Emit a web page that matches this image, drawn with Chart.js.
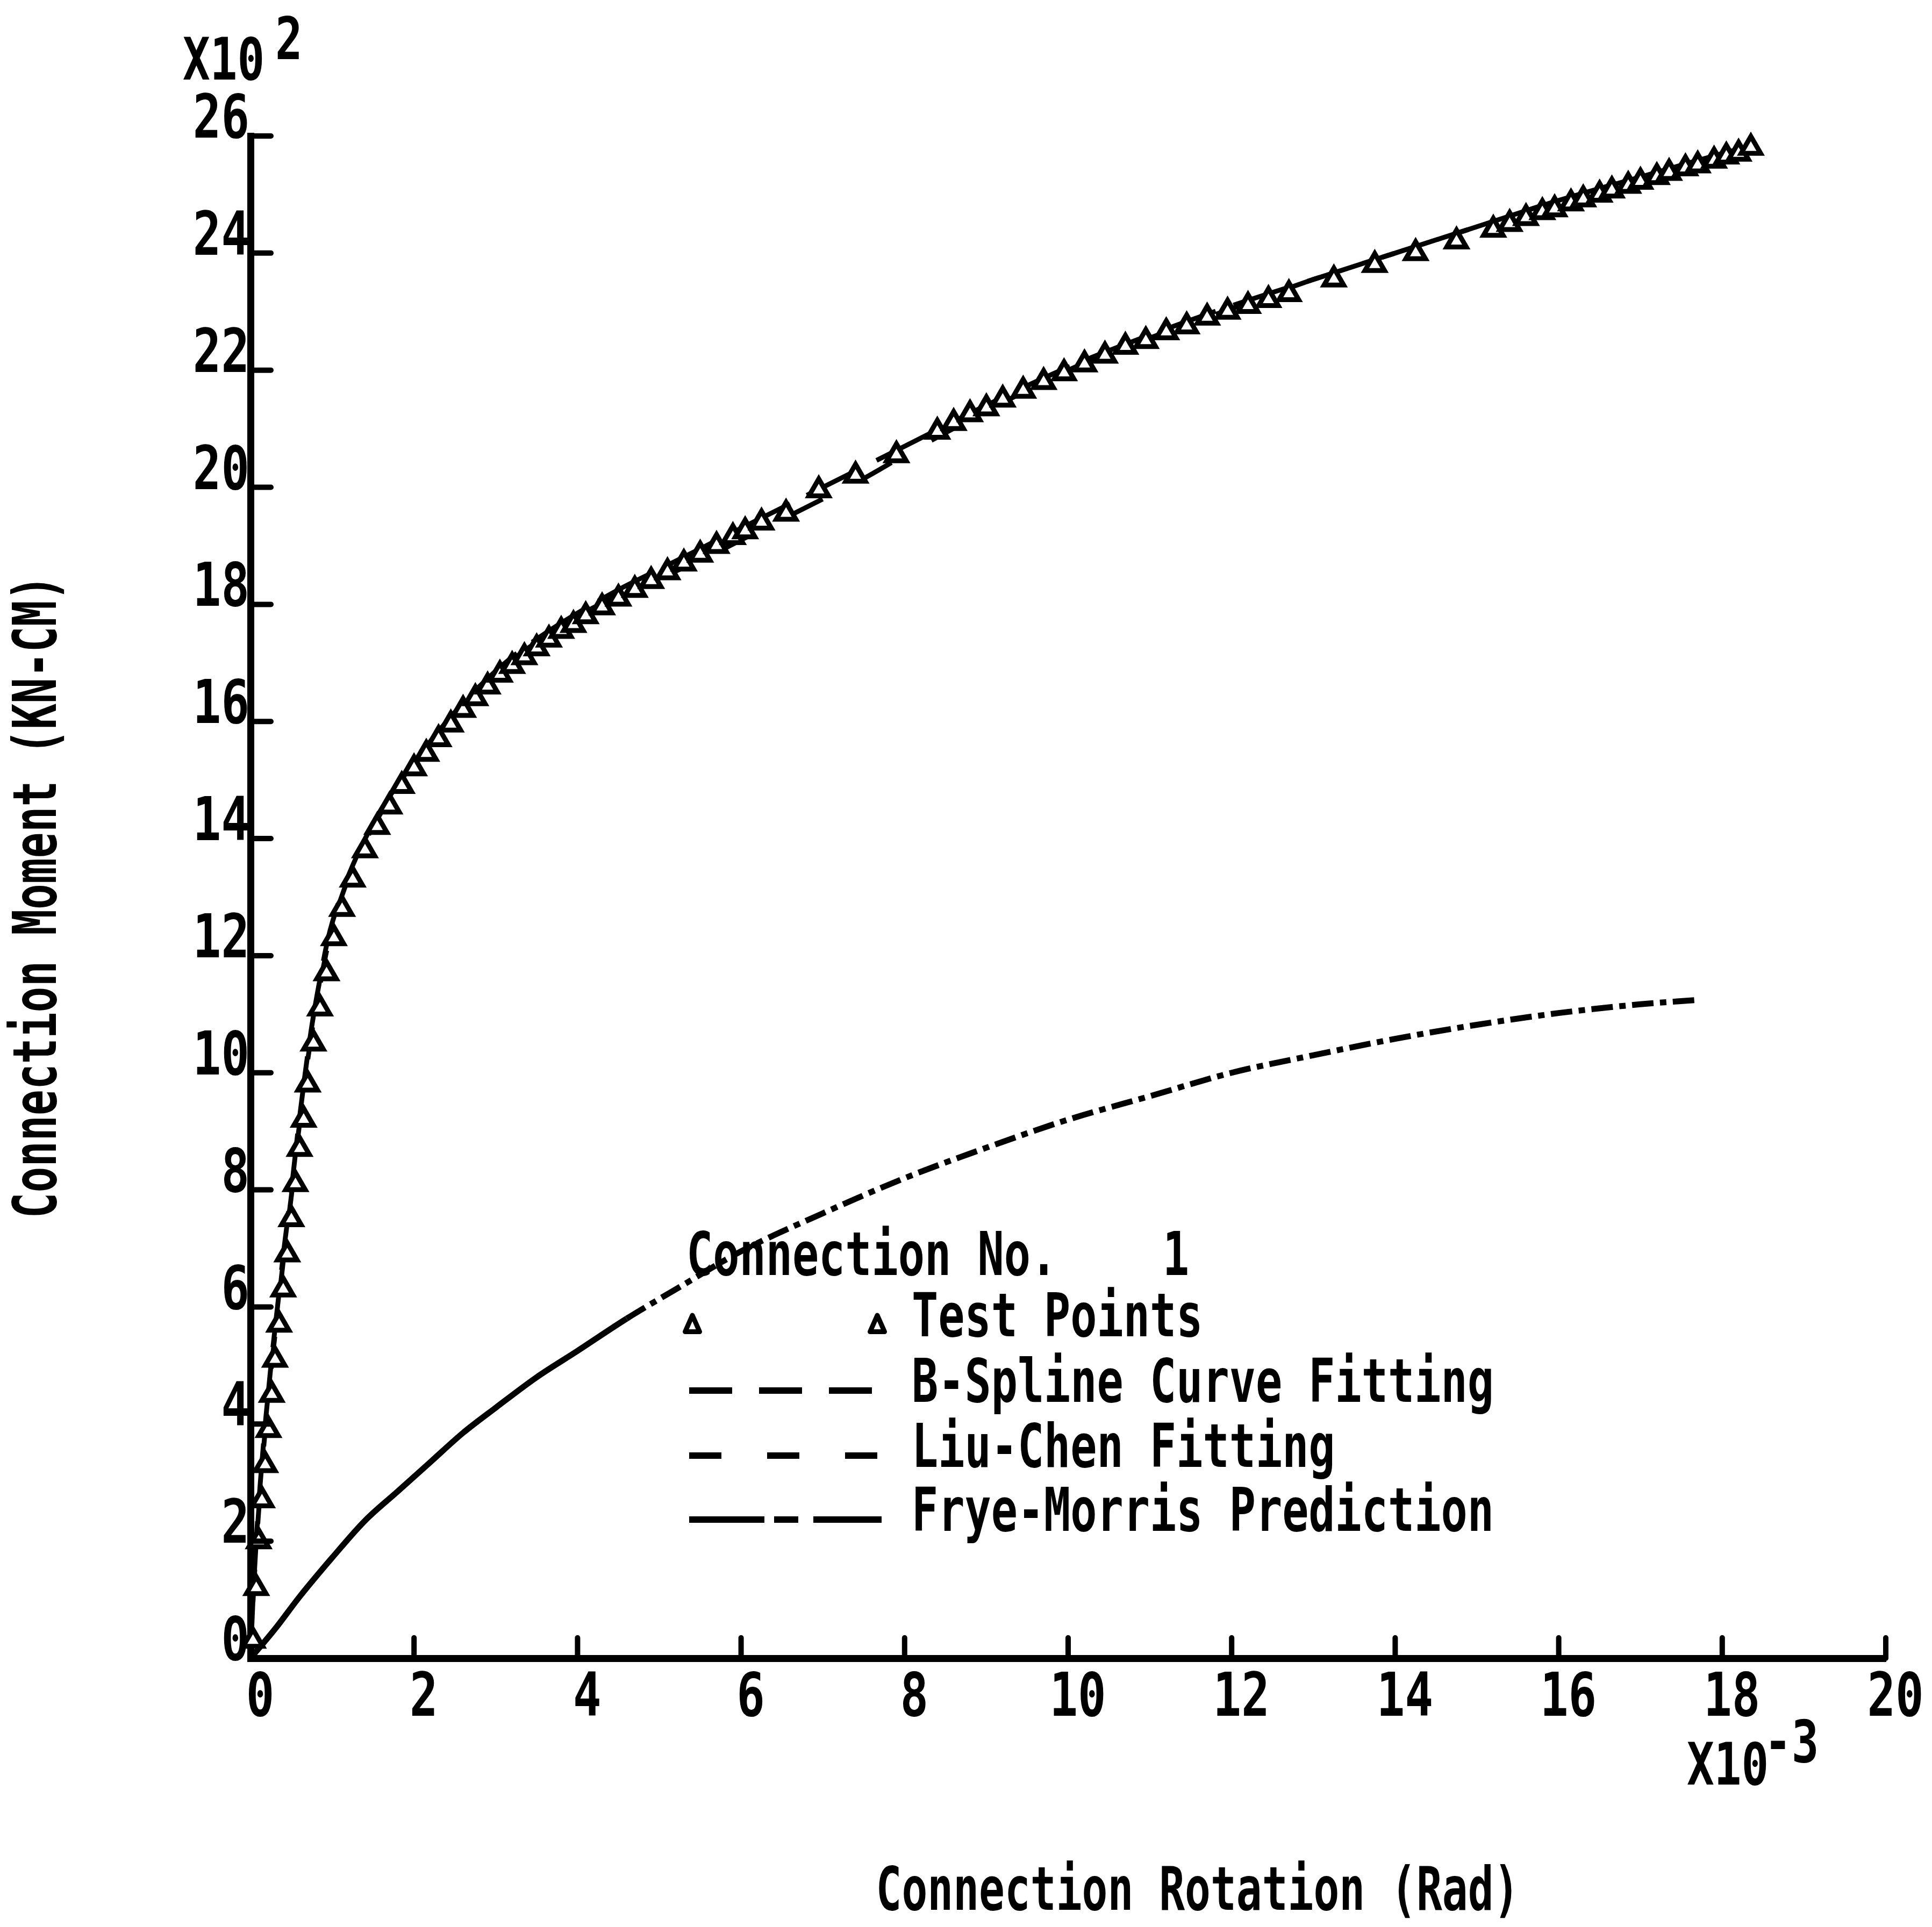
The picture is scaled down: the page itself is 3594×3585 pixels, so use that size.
<!DOCTYPE html>
<html>
<head>
<meta charset="utf-8">
<script src="https://cdn.jsdelivr.net/npm/chart.js@4.4.1/dist/chart.umd.min.js"></script>
<style>
 html,body{margin:0;padding:0;background:#fff;}
 canvas{display:block;background:#fff;}
</style>
</head>
<body>
<canvas id="chart" width="3594" height="3585"></canvas>
<script>
// rotation in 1e-3 rad, moment in 1e2 kN-cm
const testX = [0.03,0.07,0.1,0.14,0.18,0.22,0.26,0.3,0.35,0.4,0.45,0.5,0.55,0.6,0.65,0.7,0.77,0.85,0.93,1.02,1.12,1.25,1.4,1.55,1.7,
 1.85,2.0,2.15,2.3,2.45,2.6,2.75,2.9,3.05,3.2,3.35,3.5,3.65,3.8,3.95,4.1,4.3,4.5,4.7,4.9,5.1,5.3,5.5,5.7,5.9,6.05,6.25,
 6.55,6.95,7.4,7.9,8.4,8.6,8.8,9.0,9.2,9.45,9.7,9.95,10.2,10.45,10.7,10.95,11.2,11.45,11.7,11.95,12.2,12.45,12.7,
 13.25,13.75,14.25,14.75,15.2,15.4,15.6,15.8,15.95,16.15,16.3,16.5,16.65,16.85,17.0,17.2,17.35,17.55,17.7,17.9,18.05,18.2,18.35];
const testY = [0.3,1.2,2.0,2.7,3.3,3.9,4.5,5.1,5.7,6.3,6.9,7.5,8.1,8.7,9.2,9.8,10.5,11.1,11.7,12.3,12.8,13.3,13.8,14.2,14.55,
 14.9,15.2,15.45,15.7,15.95,16.2,16.4,16.6,16.8,16.95,17.1,17.25,17.4,17.55,17.65,17.8,17.95,18.1,18.25,18.4,18.55,18.7,18.85,19.0,19.15,19.25,19.4,
 19.55,19.95,20.2,20.55,20.95,21.1,21.25,21.35,21.5,21.65,21.8,21.95,22.1,22.25,22.4,22.5,22.65,22.75,22.9,23.0,23.1,23.2,23.3,
 23.55,23.8,24.0,24.2,24.4,24.5,24.6,24.7,24.75,24.85,24.92,25.0,25.07,25.15,25.22,25.3,25.37,25.45,25.5,25.58,25.65,25.7,25.8];

const splineX = [0,0.03,0.07,0.12,0.18,0.25,0.33,0.41,0.5,0.58,0.66,0.75,0.85,0.95,1.1,1.3,1.6,2.0,2.4,2.8,3.2,3.6,4.0,4.5,5.0,5.5,6.0,6.5,7.0,7.5,8.0,9.0,10,11,12,13,14,15,16,17,18,18.4];
const splineY = [0,1.0,2.0,3.0,4.0,5.0,6.0,7.0,8.0,9.0,9.9,10.8,11.6,12.3,13.0,13.7,14.5,15.3,16.0,16.6,17.1,17.5,17.85,18.25,18.6,18.95,19.3,19.65,20.0,20.35,20.7,21.4,22.05,22.6,23.1,23.55,24.0,24.45,24.9,25.3,25.7,25.85];

const liuX = [0,0.03,0.07,0.12,0.18,0.25,0.33,0.41,0.5,0.58,0.66,0.75,0.85,0.95,1.1,1.3,1.6,2.0,2.4,2.8,3.2,3.6,4.0,4.5,5.0,5.5,6.0,6.5,7.0,7.5,8.0,9.0,10,11,12,13,14,15,16,17,18,18.4];
const liuY = [0,0.95,1.9,2.9,3.9,4.9,5.9,6.9,7.9,8.9,9.8,10.7,11.5,12.2,12.95,13.65,14.45,15.25,15.95,16.55,17.05,17.45,17.8,18.15,18.45,18.75,19.1,19.45,19.8,20.15,20.55,21.3,22.0,22.55,23.05,23.55,24.0,24.45,24.9,25.3,25.7,25.85];

const fryeX = [0,0.3,0.6,1.0,1.4,1.8,2.2,2.6,3.0,3.5,4.0,4.6,5.2,6.0,7.0,8.0,9.0,10.0,11.0,12.0,13.0,14.0,15.0,16.0,17.0,17.66];
const fryeY = [0,0.5,1.05,1.72,2.35,2.85,3.35,3.85,4.28,4.8,5.25,5.8,6.3,6.95,7.6,8.2,8.72,9.2,9.6,10.0,10.3,10.58,10.82,11.02,11.17,11.24];

const xTicks = [0,2,4,6,8,10,12,14,16,18,20];
const yTicks = [0,2,4,6,8,10,12,14,16,18,20,22,24,26];

const legendRows = ['Connection No.    1','Test Points','B-Spline Curve Fitting','Liu-Chen Fitting','Frye-Morris Prediction'];
const xTitle = 'Connection Rotation (Rad)';
const yTitle = 'Connection Moment (KN-CM)';

const pts = (xs, ys) => xs.map((x, i) => ({x, y: ys[i]}));
const FONT = '"DejaVu Sans Mono", monospace';

function txt(ctx, s, x, y, size, sx, align){
 ctx.save(); ctx.translate(x, y); ctx.scale(sx, 1);
 ctx.font = 'bold ' + size + 'px ' + FONT;
 ctx.textAlign = align || 'left'; ctx.textBaseline = 'middle'; ctx.fillStyle = '#000';
 ctx.fillText(s, 0, 0); ctx.restore();
}

function tri(ctx, x, y, r){
 ctx.save(); ctx.beginPath();
 ctx.moveTo(x, y - r); ctx.lineTo(x + r*0.75, y + r*0.7); ctx.lineTo(x - r*0.75, y + r*0.7); ctx.closePath();
 ctx.fillStyle = '#fff'; ctx.fill(); ctx.lineWidth = 9; ctx.lineJoin = 'round'; ctx.strokeStyle = '#000'; ctx.stroke(); ctx.restore();
}

const decor = {
 id: 'decor',
 afterDraw(chart){
  const ctx = chart.ctx, xs = chart.scales.x, ys = chart.scales.y;
  const x0 = xs.getPixelForValue(0), y0 = ys.getPixelForValue(0);
  ctx.save(); ctx.strokeStyle = '#000'; ctx.lineWidth = 10; ctx.lineCap = 'round';
  // inward tick marks
  xTicks.forEach(v => { if (!v) return; const p = xs.getPixelForValue(v); ctx.beginPath(); ctx.moveTo(p, y0); ctx.lineTo(p, y0 - 38); ctx.stroke(); });
  yTicks.forEach(v => { if (!v) return; const p = ys.getPixelForValue(v); ctx.beginPath(); ctx.moveTo(x0, p); ctx.lineTo(x0 + 38, p); ctx.stroke(); });
  ctx.restore();
  // tick labels
  xTicks.forEach(v => txt(ctx, String(v), xs.getPixelForValue(v) + 18, y0 + 78, 112, 0.78, 'center'));
  yTicks.forEach(v => txt(ctx, String(v), x0 - 2, ys.getPixelForValue(v) - 26, 112, 0.78, 'right'));
  // exponents
  txt(ctx, 'X10', 340, 120, 108, 0.78, 'left');
  txt(ctx, '2', 512, 82, 108, 0.78, 'left');
  txt(ctx, 'X10', 3138, 3292, 108, 0.78, 'left');
  txt(ctx, '-3', 3282, 3250, 108, 0.78, 'left');
  // axis titles
  txt(ctx, xTitle, 2228, 3524, 112, 0.71, 'center');
  ctx.save(); ctx.translate(75, 1668); ctx.rotate(-Math.PI/2); txt(ctx, yTitle, 0, 0, 112, 0.71, 'center'); ctx.restore();
  // legend
  const lx = 1277, tx = 1696, rows = [2343, 2457, 2579, 2700, 2819];
  txt(ctx, legendRows[0], lx, rows[0], 112, 0.73, 'left');
  tri(ctx, 1288, rows[1] + 8, 18); tri(ctx, 1632, rows[1] + 8, 18);
  for (let i = 1; i < 5; i++) txt(ctx, legendRows[i], tx, rows[i], 112, 0.73, 'left');
  const dashes = [null, null, [80, 50], [60, 85], [140, 18, 45, 28]];
  ctx.save(); ctx.strokeStyle = '#000'; ctx.lineWidth = 12;
  for (let i = 2; i < 5; i++){ ctx.setLineDash(dashes[i]); ctx.beginPath(); ctx.moveTo(1282, rows[i] + 8); ctx.lineTo(1640, rows[i] + 8); ctx.stroke(); }
  ctx.restore();
 }
};

new Chart(document.getElementById('chart'), {
 type: 'scatter',
 data: {
  datasets: [
   {label: 'Test Points', data: pts(testX, testY), showLine: false, pointStyle: 'triangle', pointRadius: 21, borderWidth: 9, borderColor: '#000', backgroundColor: '#fff', order: 0, clip: false},
   {label: 'B-Spline Curve Fitting', data: pts(splineX, splineY), showLine: true, pointRadius: 0, borderColor: '#000', borderWidth: 9, borderDash: [110, 35], cubicInterpolationMode: 'monotone', order: 1, clip: false},
   {label: 'Liu-Chen Fitting', data: pts(liuX, liuY), showLine: true, pointRadius: 0, borderColor: '#000', borderWidth: 9, borderDash: [60, 85], borderDashOffset: 40, cubicInterpolationMode: 'monotone', order: 2, clip: false},
   {label: 'Frye-Morris Prediction', data: pts(fryeX, fryeY), showLine: true, pointRadius: 0, borderColor: '#000', borderWidth: 11, cubicInterpolationMode: 'monotone', order: 3, clip: false,
    segment: {borderDash: c => c.p0.parsed.x < 4.6 ? [] : [40, 12, 12, 12]}}
  ]
 },
 options: {
  responsive: false, animation: false, devicePixelRatio: 1,
  layout: {padding: {left: 466, right: 86, top: 253, bottom: 500}},
  plugins: {legend: {display: false}, tooltip: {enabled: false}},
  scales: {
   x: {type: 'linear', min: 0, max: 20, ticks: {display: false, stepSize: 2}, grid: {display: false, drawTicks: false}, border: {display: true, color: '#000', width: 13}},
   y: {type: 'linear', min: 0, max: 26, ticks: {display: false, stepSize: 2}, grid: {display: false, drawTicks: false}, border: {display: true, color: '#000', width: 13}}
  }
 },
 plugins: [decor]
});
</script>
</body>
</html>
